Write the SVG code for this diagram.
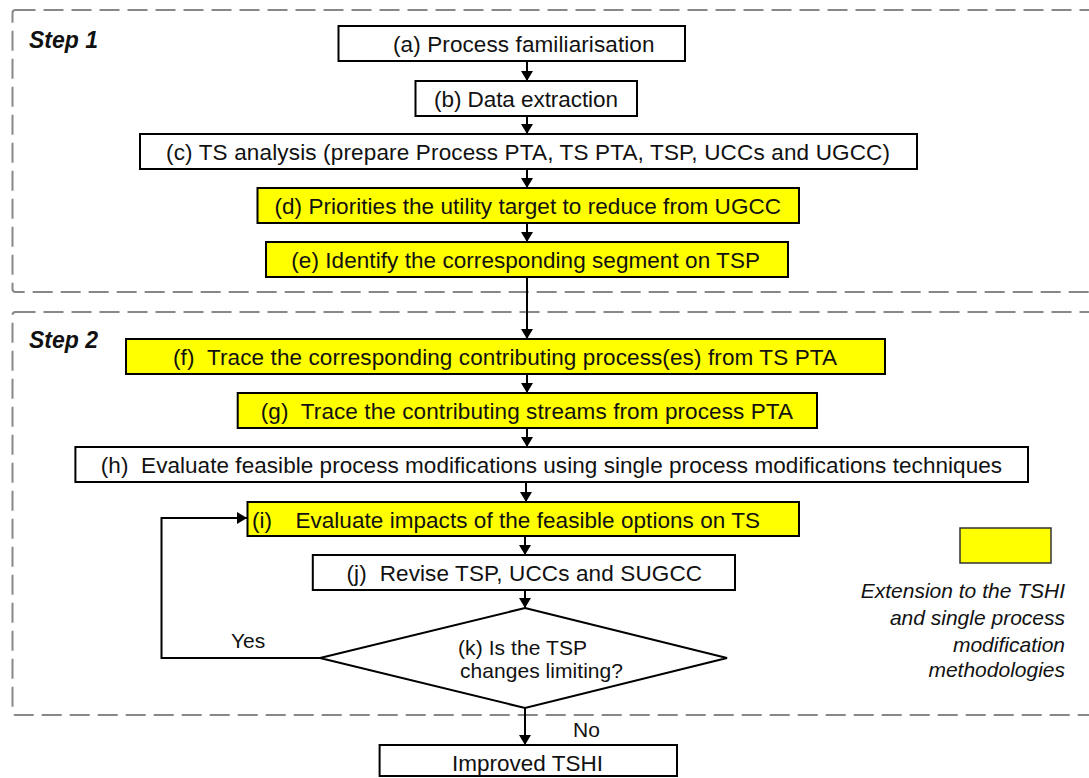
<svg xmlns="http://www.w3.org/2000/svg" width="1089" height="778" viewBox="0 0 1089 778">
<defs>
<marker id="ah" markerUnits="userSpaceOnUse" markerWidth="11" markerHeight="12" refX="10" refY="6" orient="auto">
<path d="M0,0 L10,6 L0,12 z" fill="#000"/>
</marker>
<style>
.frame{fill:none;stroke:#888;stroke-width:2;stroke-dasharray:20 8}
.box{fill:#fff;stroke:#000;stroke-width:2}
.ybox{fill:#ffff00;stroke:#000;stroke-width:2}
.t{font-family:"Liberation Sans",Arial,sans-serif;font-size:22.5px;fill:#111}
.s{font-family:"Liberation Sans",Arial,sans-serif;font-size:21px;fill:#111}
.step{font-family:"Liberation Sans",Arial,sans-serif;font-size:23px;font-weight:bold;font-style:italic;fill:#111}
.leg{font-family:"Liberation Sans",Arial,sans-serif;font-size:21px;font-style:italic;fill:#111;text-anchor:end}
.c{fill:none;stroke:#000;stroke-width:2}
</style>
</defs>
<rect width="1089" height="778" fill="#fff"/>
<g id="step1">
<rect class="frame" x="12.5" y="10" width="1100" height="282" rx="3"/>
<text class="step" x="29" y="48">Step 1</text>
</g>
<g id="step2">
<rect class="frame" x="12.5" y="312" width="1100" height="403" rx="3"/>
<text class="step" x="29" y="348">Step 2</text>
</g>
<g id="connectors">
<path class="c" d="M527,61 V81" marker-end="url(#ah)"/>
<path class="c" d="M527,116 V134" marker-end="url(#ah)"/>
<path class="c" d="M527,169 V188" marker-end="url(#ah)"/>
<path class="c" d="M527,223 V242" marker-end="url(#ah)"/>
<path class="c" d="M527,277 V339" marker-end="url(#ah)"/>
<path class="c" d="M527,374 V393" marker-end="url(#ah)"/>
<path class="c" d="M527,428 V447" marker-end="url(#ah)"/>
<path class="c" d="M526,482 V502" marker-end="url(#ah)"/>
<path class="c" d="M525,536 V555" marker-end="url(#ah)"/>
<path class="c" d="M525,590 V608" marker-end="url(#ah)"/>
<path class="c" d="M525,708 V745" marker-end="url(#ah)"/>
<path class="c" d="M320,658 H161.5 V518 H247" marker-end="url(#ah)"/>
<text class="s" x="231" y="648">Yes</text>
<text class="s" x="573" y="737">No</text>
</g>
<g id="a">
<rect class="box" x="338.5" y="26" width="346.5" height="35"/>
<text class="t" x="393" y="52" textLength="261.5" lengthAdjust="spacing">(a) Process familiarisation</text>
</g>
<g id="b">
<rect class="box" x="415.5" y="81" width="221.5" height="35"/>
<text class="t" x="434" y="107" textLength="184" lengthAdjust="spacing">(b) Data extraction</text>
</g>
<g id="c">
<rect class="box" x="140" y="134" width="777" height="35"/>
<text class="t" x="166" y="160" textLength="724" lengthAdjust="spacing">(c) TS analysis (prepare Process PTA, TS PTA, TSP, UCCs and UGCC)</text>
</g>
<g id="d">
<rect class="ybox" x="257.5" y="188" width="541.5" height="35"/>
<text class="t" x="274.5" y="214" textLength="506.5" lengthAdjust="spacing">(d) Priorities the utility target to reduce from UGCC</text>
</g>
<g id="e">
<rect class="ybox" x="266" y="242" width="522" height="35"/>
<text class="t" x="291.3" y="268" textLength="468.7" lengthAdjust="spacing">(e) Identify the corresponding segment on TSP</text>
</g>
<g id="f">
<rect class="ybox" x="126" y="339" width="759" height="35"/>
<text class="t" x="173" y="365" textLength="664" lengthAdjust="spacing" xml:space="preserve">(f)  Trace the corresponding contributing process(es) from TS PTA</text>
</g>
<g id="g">
<rect class="ybox" x="237.7" y="393" width="579.3" height="35"/>
<text class="t" x="260.7" y="419" textLength="532.3" lengthAdjust="spacing" xml:space="preserve">(g)  Trace the contributing streams from process PTA</text>
</g>
<g id="h">
<rect class="box" x="75.4" y="447" width="952.6" height="35"/>
<text class="t" x="100.8" y="473" textLength="901.2" lengthAdjust="spacing" xml:space="preserve">(h)  Evaluate feasible process modifications using single process modifications techniques</text>
</g>
<g id="i">
<rect class="ybox" x="247.5" y="502" width="551.5" height="34"/>
<text class="t" x="252" y="528">(i)</text>
<text class="t" x="295.4" y="528" textLength="464.6" lengthAdjust="spacing">Evaluate impacts of the feasible options on TS</text>
</g>
<g id="j">
<rect class="box" x="312.8" y="555" width="422.2" height="35"/>
<text class="t" x="346.5" y="581" textLength="355.5" lengthAdjust="spacing" xml:space="preserve">(j)  Revise TSP, UCCs and SUGCC</text>
</g>
<g id="k">
<polygon class="box" points="525,608 727,658 525,708 320,658"/>
<text class="s" x="458" y="655" textLength="129" lengthAdjust="spacing">(k) Is the TSP</text>
<text class="s" x="460" y="678" textLength="163" lengthAdjust="spacing">changes limiting?</text>
</g>
<g id="end">
<rect class="box" x="379.6" y="745" width="297.4" height="31"/>
<text class="t" x="452" y="771" textLength="151" lengthAdjust="spacing">Improved TSHI</text>
</g>
<g id="legend">
<rect x="960" y="528" width="91" height="35" fill="#ffff00" stroke="#333" stroke-width="1.5"/>
<text class="leg" x="1065" y="598">Extension to the TSHI</text>
<text class="leg" x="1065" y="625">and single process</text>
<text class="leg" x="1065" y="652">modification</text>
<text class="leg" x="1065" y="677">methodologies</text>
</g>
</svg>
